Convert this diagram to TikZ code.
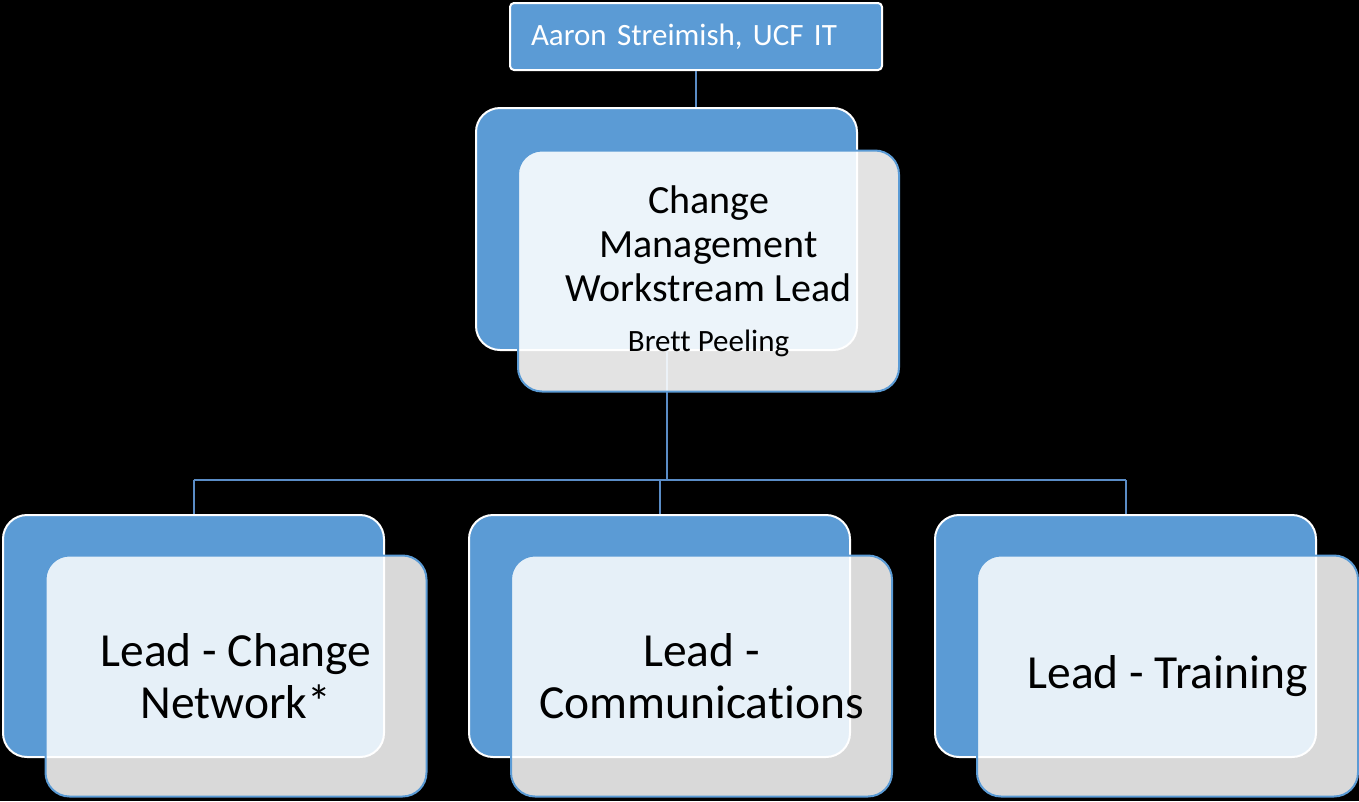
\documentclass[tikz,border=0pt]{standalone}
\usepackage{fontspec}
\setmainfont[Ligatures=NoCommon]{Carlito}
\usetikzlibrary{positioning}
\definecolor{cblue}{HTML}{5B9BD5}
\definecolor{cline}{HTML}{5A8CC6}

\begin{document}
\begin{tikzpicture}[x=1pt,y=-1pt,line join=round,
  bluebox/.style={draw=white,line width=2pt,fill=cblue,rounded corners=24pt,
    minimum width=381pt,minimum height=242pt,inner sep=0pt},
  glassbox/.style={draw=cblue,line width=2pt,fill=white,fill opacity=0.85,text opacity=1,
    rounded corners=24pt,minimum width=381pt,minimum height=241pt,inner sep=0pt,
    align=center,font=\fontsize{47.5}{52}\selectfont},
  link/.style={draw=cline,line width=2pt}]
\fill[black] (0,0) rectangle (1359,801);
\useasboundingbox (0,0) rectangle (1359,801);

% top of the chart
\node[draw=white,line width=2pt,fill=cblue,rounded corners=4pt,minimum width=372pt,
  minimum height=67pt,inner xsep=21pt,text width=330pt,align=left,text=white,
  font=\fontsize{31}{36}\selectfont] (T) at (696,36.5) {Aaron Streimish, UCF IT};

% change management lead
\node[bluebox] (M1) at (666.5,229) {};
\coordinate (J) at (666.5,480);
\draw[link] (T.south) -- (T.south |- M1.north);
\draw[link] (M1.south) -- (J);

% three leads
\node[bluebox] (B1) at (193.5,636) {};
\node[bluebox] (B2) at (659.5,636) {};
\node[bluebox] (B3) at (1125.5,636) {};
\draw[link] (B1.north |- J) -- (B3.north |- J);
\draw[link] (B1.north |- J) -- (B1.north);
\draw[link] (B2.north |- J) -- (B2.north);
\draw[link] (B3.north |- J) -- (B3.north);

\node[glassbox,fill opacity=0.89,font=\fontsize{40}{44}\selectfont] (M2) at (708.5,271)
  {Change\\Management\\Workstream Lead\\[6pt]{\fontsize{31}{36}\selectfont Brett Peeling}};
\node[glassbox] (C1) at (236,676) {Lead - Change\\Network*};
\node[glassbox] (C2) at (701.5,676) {Lead -\\Communications};
\node[glassbox] (C3) at (1167.5,676) {Lead - Training};
\end{tikzpicture}
\end{document}
